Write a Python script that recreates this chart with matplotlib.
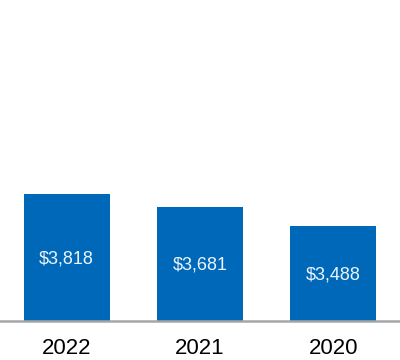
import matplotlib.pyplot as plt

years = ['2022', '2021', '2020']
values = [3818, 3681, 3488]
labels = ['$3,818', '$3,681', '$3,488']

plt.rcParams['font.family'] = ['Liberation Sans', 'DejaVu Sans']

fig = plt.figure(figsize=(4, 3.6), dpi=100)
ax = fig.add_axes([0, 0.108, 1, 0.892])

x = range(len(years))
ax.bar(x, values, width=0.645, color='#0068b8', zorder=2)
for i, v in enumerate(values):
    ax.text(i, (2500 + v) / 2 - 12, labels[i], ha='center', va='center',
            color='#eef4fb', fontsize=13)

ax.set_xlim(-0.5, 2.5)
ax.set_ylim(2500, 5833)
ax.set_xticks(list(x))
ax.set_xticklabels(years, fontsize=16)
ax.tick_params(axis='x', length=0, pad=12)
ax.set_yticks([])
for s in ['top', 'right', 'left']:
    ax.spines[s].set_visible(False)
ax.spines['bottom'].set_color('#a6a6a6')
ax.spines['bottom'].set_linewidth(1.8)

fig.savefig('out.png', dpi=100)
